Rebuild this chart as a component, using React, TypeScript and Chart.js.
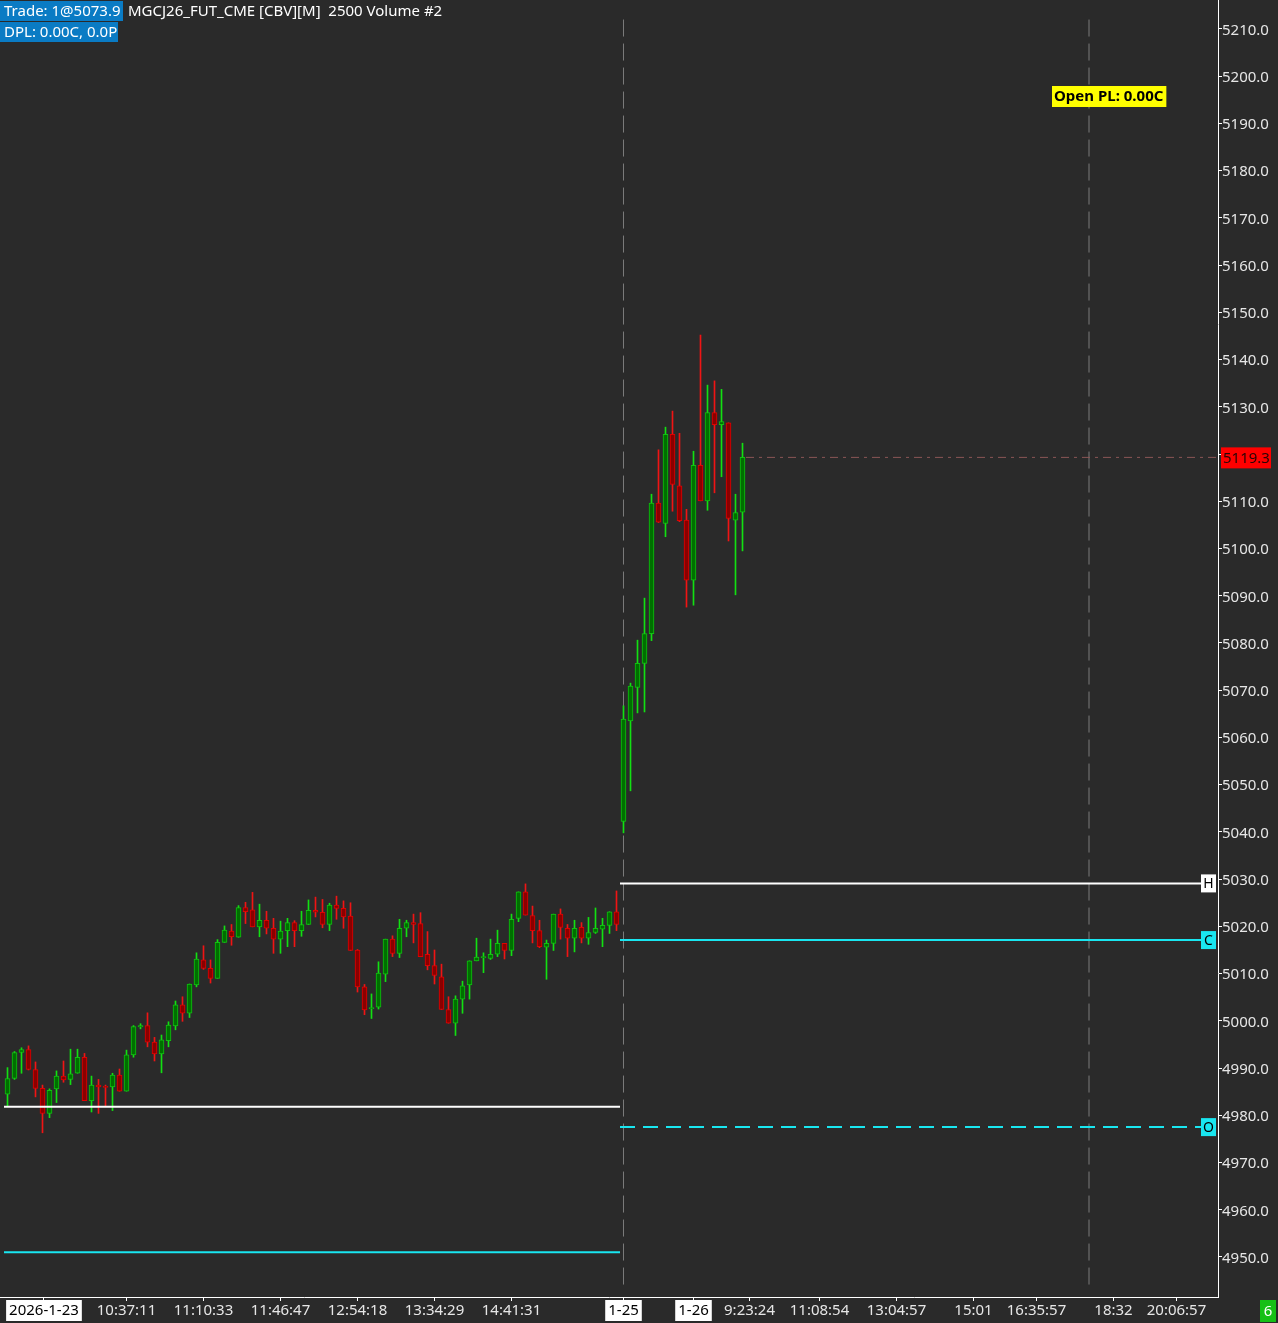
import React, { useEffect, useRef } from "react";
import { Chart, registerables } from "chart.js";

Chart.register(...registerables);

// ---- Candle data (2500 volume bars) ----
const opens = [
  4984.5, 4987.8, 4993.3, 4993.9, 4989.7, 4985.7, 4980.4, 4985.6, 4988.3, 4987.6,
  4988.9, 4992.3, 4983.1, 4986.4, 4986.1, 4986.0, 4988.5, 4985.1, 4992.8, 4998.7,
  4999.0, 4995.5, 4993.0, 4995.8, 4998.9, 5003.4, 5001.6, 5007.6, 5012.9, 5011.1,
  5009.0, 5016.6, 5019.0, 5017.7, 5024.0, 5023.5, 5019.9, 5021.3, 5019.6, 5017.3,
  5019.1, 5020.8, 5019.1, 5020.4, 5023.4, 5023.0, 5020.4, 5024.5, 5023.8, 5022.2,
  5015.0, 5007.2, 5002.6, 5002.9, 5009.9, 5017.3, 5014.3, 5019.6, 5020.8, 5020.6,
  5014.1, 5011.7, 5009.3, 5002.4, 4999.5, 5004.6, 5007.6, 5012.7, 5013.4, 5013.2,
  5014.1, 5016.4, 5014.9, 5021.7, 5027.3, 5022.3, 5019.1, 5015.6, 5016.4, 5022.6,
  5019.6, 5017.5, 5019.8, 5017.5, 5018.7, 5019.4, 5020.2, 5023.1,
  5042.2, 5063.5, 5070.6, 5075.7, 5082.0, 5109.6, 5105.3, 5124.2, 5113.3, 5106.0,
  5093.3, 5117.6, 5110.1, 5128.8, 5126.2, 5126.6, 5106.0, 5107.7,
];
const highs = [
  4990.1, 4993.5, 4994.3, 4994.7, 4991.3, 4986.4, 4985.6, 4989.4, 4991.5, 4994.0,
  4994.0, 4993.1, 4988.3, 4987.6, 4986.4, 4988.9, 4989.8, 4993.8, 4999.0, 4999.4,
  5001.7, 4996.5, 4997.0, 4999.8, 5004.2, 5005.1, 5007.8, 5014.4, 5015.9, 5012.9,
  5017.2, 5020.1, 5020.4, 5024.4, 5025.1, 5027.2, 5024.7, 5023.2, 5021.7, 5021.1,
  5021.7, 5021.2, 5023.2, 5025.6, 5026.2, 5025.7, 5024.9, 5026.4, 5025.4, 5025.0,
  5015.1, 5007.7, 5005.7, 5012.5, 5017.3, 5018.0, 5021.5, 5021.3, 5022.6, 5022.9,
  5018.9, 5015.0, 5012.0, 5005.1, 5005.3, 5008.4, 5012.7, 5017.5, 5014.4, 5017.3,
  5019.2, 5016.4, 5022.6, 5027.3, 5029.0, 5024.3, 5021.3, 5017.1, 5022.6, 5023.7,
  5020.4, 5021.3, 5020.8, 5021.9, 5023.9, 5021.7, 5023.1, 5027.5,
  5066.7, 5071.5, 5080.6, 5089.5, 5111.5, 5120.9, 5125.7, 5129.1, 5124.4, 5108.3,
  5120.6, 5145.2, 5134.6, 5135.5, 5133.7, 5126.6, 5111.5, 5122.3,
];
const lows = [
  4982.0, 4987.6, 4988.9, 4989.6, 4983.9, 4976.3, 4979.5, 4982.7, 4987.0, 4986.5,
  4988.9, 4983.1, 4980.7, 4980.4, 4982.0, 4981.0, 4985.1, 4985.1, 4992.3, 4998.3,
  4994.5, 4991.5, 4989.0, 4994.5, 4998.1, 4999.9, 5000.7, 5007.2, 5010.9, 5008.0,
  5009.0, 5016.6, 5016.0, 5017.7, 5020.6, 5019.9, 5017.8, 5018.4, 5014.3, 5014.3,
  5015.7, 5015.7, 5017.9, 5020.4, 5022.0, 5019.7, 5019.1, 5021.5, 5019.6, 5014.9,
  5006.1, 5001.3, 5000.5, 5002.5, 5008.3, 5013.6, 5013.4, 5017.8, 5016.5, 5013.6,
  5010.8, 5007.8, 5002.4, 4999.5, 4996.9, 5001.6, 5004.6, 5012.7, 5010.2, 5013.0,
  5013.6, 5013.1, 5013.8, 5021.0, 5022.4, 5016.5, 5015.5, 5008.8, 5014.9, 5017.3,
  5013.6, 5014.6, 5016.5, 5016.2, 5018.5, 5015.7, 5018.5, 5019.1,
  5039.8, 5048.7, 5065.2, 5065.4, 5080.5, 5105.5, 5102.5, 5107.9, 5105.7, 5087.6,
  5088.0, 5110.1, 5108.1, 5111.8, 5115.2, 5101.6, 5090.2, 5099.5,
];
const closes = [
  4987.8, 4993.3, 4993.9, 4989.7, 4985.7, 4980.4, 4985.3, 4988.3, 4987.5, 4988.8,
  4992.3, 4983.1, 4986.4, 4986.0, 4985.9, 4988.5, 4985.1, 4992.8, 4998.8, 4999.0,
  4995.5, 4993.0, 4996.0, 4999.1, 5003.4, 5001.6, 5007.8, 5013.1, 5011.1, 5009.0,
  5016.6, 5019.2, 5017.8, 5024.0, 5023.1, 5019.9, 5021.3, 5019.6, 5017.3, 5019.0,
  5020.8, 5019.1, 5020.4, 5023.4, 5023.0, 5020.4, 5024.5, 5023.8, 5022.0, 5014.9,
  5007.2, 5002.3, 5002.8, 5010.1, 5017.3, 5014.3, 5019.6, 5020.8, 5020.4, 5013.6,
  5011.7, 5009.6, 5002.4, 4999.5, 5004.6, 5007.4, 5012.7, 5013.5, 5013.6, 5014.1,
  5016.4, 5014.9, 5021.5, 5027.3, 5022.4, 5019.1, 5015.7, 5016.4, 5022.6, 5019.8,
  5017.5, 5019.6, 5017.5, 5018.7, 5019.6, 5020.2, 5023.1, 5020.4,
  5063.9, 5070.9, 5075.7, 5082.0, 5109.6, 5105.6, 5124.2, 5113.6, 5105.9, 5093.3,
  5117.6, 5110.1, 5128.8, 5126.2, 5126.9, 5106.4, 5107.6, 5119.3,
];

// ---- Axis ticks ----
const Y_TICKS = [
  4950, 4960, 4970, 4980, 4990, 5000, 5010, 5020, 5030, 5040, 5050, 5060, 5070, 5080,
  5090, 5100, 5110, 5120, 5130, 5140, 5150, 5160, 5170, 5180, 5190, 5200, 5210,
];
const X_TICK_POS = [5.21, 17, 28, 39, 50, 61, 72, 88, 98, 106, 116, 127, 138, 147, 158, 167];
const X_TICK_LABELS = [
  "2026-1-23", "10:37:11", "11:10:33", "11:46:47", "12:54:18", "13:34:29", "14:41:31",
  "1-25", "1-26", "9:23:24", "11:08:54", "13:04:57", "15:01", "16:35:57", "18:32", "20:06:57",
];
const X_TICK_IS_DATE = [
  true, false, false, false, false, false, false,
  true, true, false, false, false, false, false, false, false,
];

// ---- Levels & markers ----
const PREV_SESSION_LEVELS = [4981.8, 4951.0];
const SESSION_LEVEL_NAMES = ["H", "C", "O"];
const SESSION_LEVEL_VALUES = [5029.1, 5017.1, 4977.5];
const LAST_PRICE = 5119.3;
const SESSION_BREAKS = [88, 154.5];
const HEADER_TRADE = "Trade: 1@5073.9";
const HEADER_SYMBOL = "MGCJ26_FUT_CME [CBV][M]  2500 Volume #2";
const HEADER_DPL = "DPL: 0.00C, 0.0P";
const OPEN_PL = "Open PL: 0.00C";
const BADGE = "6";

// ---- layout constants ----
const W = 1278;
const H = 1323;
const XMIN = -7.5 / 7;
const XMAX = (1218 - 7.5) / 7;
const YMIN = 4941.53;
const YMAX = 5216.14;
const FONT = "'Noto Sans', 'DejaVu Sans', sans-serif";

const UP_WICK = "#12e012";
const UP_BORDER = "#10c010";
const UP_FILL = "#006f00";
const DN_WICK = "#f01414";
const DN_BORDER = "#e00000";
const DN_FILL = "#8a0000";

export default function App() {
  const ref = useRef<HTMLCanvasElement | null>(null);

  useEffect(() => {
    const canvas = ref.current;
    if (!canvas) return;
    const up = closes.map((c, i) => c >= opens[i]);

    const levelDs: any[] = [];
    PREV_SESSION_LEVELS.forEach((v, k) => {
      levelDs.push({
        type: "line",
        data: [{ x: -0.5, y: v }, { x: 87.5, y: v }],
        borderColor: k === 0 ? "#ffffff" : "#19e6f0",
        borderWidth: 2,
        pointRadius: 0,
        order: 0,
      });
    });
    SESSION_LEVEL_VALUES.forEach((v, k) => {
      levelDs.push({
        type: "line",
        data: [{ x: 87.5, y: v }, { x: 170.64, y: v }],
        borderColor: k === 0 ? "#ffffff" : "#19e6f0",
        borderWidth: 2,
        borderDash: k === 2 ? [15, 8] : [],
        pointRadius: 0,
        order: 0,
      });
    });

    const breakDs = SESSION_BREAKS.map((b) => ({
      type: "line",
      data: [{ x: b, y: 5212 }, { x: b, y: 4943 }],
      borderColor: "#7a7a7a",
      borderWidth: 1,
      borderDash: [17, 7],
      pointRadius: 0,
      order: 5,
    }));

    const overlay = {
      id: "overlay",
      beforeDraw(chart: any) {
        const c = chart.ctx;
        c.save();
        c.fillStyle = "#2a2a2a";
        c.fillRect(0, 0, chart.width, chart.height);
        c.restore();
      },
      afterDraw(chart: any) {
        const c = chart.ctx;
        const ys = chart.scales.y;
        const area = chart.chartArea;
        c.save();
        c.textBaseline = "middle";
        // header
        c.font = `15px ${FONT}`;
        c.fillStyle = "#0a7bc4";
        c.fillRect(0, 1, 123, 20);
        c.fillRect(0, 22, 118, 20);
        c.fillStyle = "#ffffff";
        c.textAlign = "left";
        c.fillText(HEADER_TRADE, 4, 12);
        c.fillText(HEADER_SYMBOL, 128, 12);
        c.fillText(HEADER_DPL, 4, 33);

        // open PL
        c.font = `bold 15px ${FONT}`;
        const tw = c.measureText(OPEN_PL).width;
        const bx = area.right - 166;
        c.fillStyle = "#ffff00";
        c.fillRect(bx, 86, tw + 5, 21);
        c.fillStyle = "#000000";
        c.fillText(OPEN_PL, bx + 2, 97);

        // level tags
        c.font = `14px ${FONT}`;
        c.textAlign = "center";
        SESSION_LEVEL_VALUES.forEach((v, k) => {
          const y = ys.getPixelForValue(v);
          c.fillStyle = k === 0 ? "#ffffff" : "#19e6f0";
          c.fillRect(1201, y - 9, 15, 18);
          c.fillStyle = "#000000";
          c.fillText(SESSION_LEVEL_NAMES[k], 1208.5, y + 1);
        });

        // last price tag
        const py = ys.getPixelForValue(LAST_PRICE);
        c.font = `15px ${FONT}`;
        c.fillStyle = "#ff0000";
        c.fillRect(1221, py - 10, 50, 21);
        c.fillStyle = "#2a0505";
        c.textAlign = "left";
        c.fillText(LAST_PRICE.toFixed(1), 1223, py + 1);

        // badge
        c.fillStyle = "#16c016";
        c.fillRect(1260, 1300, 16, 22);
        c.fillStyle = "#ffffff";
        c.textAlign = "center";
        c.fillText(BADGE, 1268, 1312);
        c.restore();
      },
    };

    const chart = new Chart(canvas, {
      type: "bar",
      data: {
        datasets: [
          ...levelDs,
          {
            type: "line",
            data: [{ x: 105.5, y: LAST_PRICE }, { x: XMAX, y: LAST_PRICE }],
            borderColor: "#8a5656",
            borderWidth: 1,
            borderDash: [8, 5, 3, 5],
            pointRadius: 0,
            order: 1,
          },
          {
            type: "bar",
            data: opens.map((o, i) => ({ x: i, y: [o, closes[i]] })),
            backgroundColor: up.map((u) => (u ? UP_FILL : DN_FILL)),
            borderColor: up.map((u) => (u ? UP_BORDER : DN_BORDER)),
            borderWidth: 1,
            borderSkipped: false,
            barThickness: 5,
            minBarLength: 1,
            grouped: false,
            order: 2,
          },
          {
            type: "bar",
            data: highs.map((h, i) => ({ x: i, y: [lows[i], h] })),
            backgroundColor: up.map((u) => (u ? UP_WICK : DN_WICK)),
            borderWidth: 0,
            barThickness: 1,
            grouped: false,
            order: 3,
          },
          ...breakDs,
        ] as any,
      },
      options: {
        responsive: false,
        devicePixelRatio: 1,
        animation: false,
        events: [],
        layout: { padding: 0 },
        plugins: { legend: { display: false }, tooltip: { enabled: false }, title: { display: false } },
        scales: {
          x: {
            type: "linear",
            min: XMIN,
            max: XMAX,
            offset: false,
            afterBuildTicks: (s: any) => {
              s.ticks = X_TICK_POS.map((v) => ({ value: v }));
            },
            afterFit: (s: any) => {
              s.height = 26;
              s.paddingLeft = 0;
              s.paddingRight = 0;
            },
            grid: { drawOnChartArea: false, color: "#ffffff", tickLength: 4, offset: false },
            border: { color: "#ffffff", width: 1 },
            ticks: {
              autoSkip: false,
              maxRotation: 0,
              minRotation: 0,
              padding: 1,
              font: { family: FONT, size: 15 },
              callback: (_v: any, idx: number) => X_TICK_LABELS[idx],
              color: (ctx: any) => (X_TICK_IS_DATE[ctx.index] ? "#000000" : "#e6e6e6"),
              showLabelBackdrop: (ctx: any) => !!X_TICK_IS_DATE[ctx.index],
              backdropColor: "#ffffff",
              backdropPadding: { left: 3, right: 3, top: 2, bottom: 1 },
            } as any,
          },
          y: {
            type: "linear",
            position: "right",
            min: YMIN,
            max: YMAX,
            afterBuildTicks: (s: any) => {
              s.ticks = Y_TICKS.map((v) => ({ value: v }));
            },
            afterFit: (s: any) => {
              s.width = 60;
              s.paddingTop = 0;
              s.paddingBottom = 0;
            },
            grid: { drawOnChartArea: false, color: "#ffffff", tickLength: 4 },
            border: { color: "#ffffff", width: 1 },
            ticks: {
              padding: 0,
              labelOffset: 1.5,
              font: { family: FONT, size: 15 },
              color: "#e6e6e6",
              callback: (v: any) => Number(v).toFixed(1),
            },
          },
        },
      } as any,
      plugins: [overlay],
    });
    return () => chart.destroy();
  }, []);

  return (
    <div style={{ position: "absolute", left: 0, top: 0, width: W, height: H, background: "#2a2a2a" }}>
      <canvas ref={ref} width={W} height={H} style={{ display: "block", width: W, height: H }} />
    </div>
  );
}
